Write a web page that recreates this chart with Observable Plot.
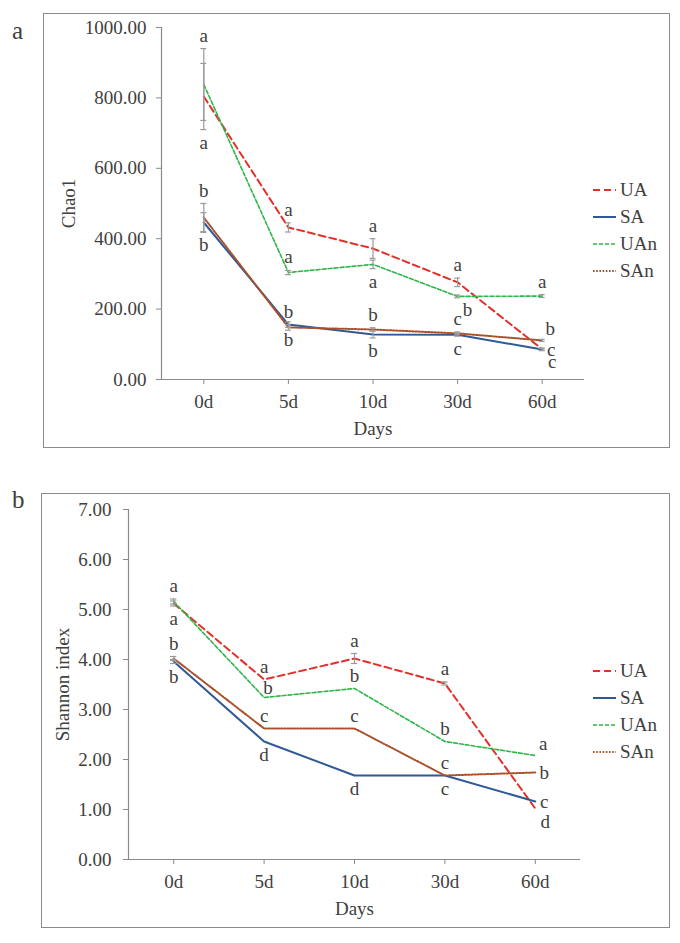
<!DOCTYPE html>
<html><head><meta charset="utf-8">
<script src="https://cdn.jsdelivr.net/npm/d3@7"></script>
<script src="https://cdn.jsdelivr.net/npm/@observablehq/plot@0.6"></script>
<style>
body{margin:0;background:#fff;font-family:"Liberation Serif","Times New Roman",serif;color:#404040}
#root{position:relative;width:680px;height:943px;overflow:hidden}
.panel{position:absolute;border:1px solid #8c8c8c;box-sizing:border-box}
.panel svg{display:block}
.plabel{position:absolute;font-size:25px;line-height:1}
.legend{position:absolute;font-size:19px}
.legend .row{display:flex;align-items:center;height:27px}
.legend svg{display:block;margin-right:3px}
</style></head><body><div id="root"></div>
<script>
// ---------- data ----------
const days = ["0d", "5d", "10d", "30d", "60d"];
const seriesNames = ["UA", "SA", "UAn", "SAn"];

// Panel a: Chao1
const chaoUA  = [804, 432, 372, 276, 86];
const chaoSA  = [446, 156, 128, 127, 85];
const chaoUAn = [838, 304, 327, 236, 237];
const chaoSAn = [460, 148, 142, 131, 111];
const chaoErrUA  = [94, 13, 28, 12, 3];
const chaoErrSA  = [28, 8, 10, 4, 3];
const chaoErrUAn = [102, 6, 12, 4, 4];
const chaoErrSAn = [40, 8, 5, 4, 3];
const chaoTicks = [0, 200, 400, 600, 800, 1000];
const chaoLetUA  = ["a", "a", "a", "a", "c"];
const chaoLetSA  = ["b", "b", "b", "c", "c"];
const chaoLetUAn = ["a", "a", "a", "b", "a"];
const chaoLetSAn = ["b", "b", "b", "c", "b"];
const chaoSideUA  = ["below", "above", "above", "above", "downRight"];
const chaoSideSA  = ["below", "below", "below", "below", "right"];
const chaoSideUAn = ["above", "above", "below", "downRight", "above"];
const chaoSideSAn = ["above", "above", "above", "above", "upRight"];

// Panel b: Shannon index
const shanUA  = [5.12, 3.60, 4.02, 3.52, 1.02];
const shanSA  = [3.96, 2.36, 1.68, 1.68, 1.16];
const shanUAn = [5.16, 3.24, 3.42, 2.36, 2.08];
const shanSAn = [4.02, 2.62, 2.62, 1.68, 1.74];
const shanErrUA  = [0.05, 0, 0.1, 0.03, 0];
const shanErrSA  = [0.04, 0, 0, 0, 0];
const shanErrUAn = [0.05, 0, 0, 0, 0];
const shanErrSAn = [0.04, 0, 0, 0, 0];
const shanTicks = [0, 1, 2, 3, 4, 5, 6, 7];
const shanLetUA  = ["a", "a", "a", "a", "d"];
const shanLetSA  = ["b", "d", "d", "c", "c"];
const shanLetUAn = ["a", "b", "b", "b", "a"];
const shanLetSAn = ["b", "c", "c", "c", "b"];
const shanSideUA  = ["below", "above", "above", "above", "downRight"];
const shanSideSA  = ["below", "below", "below", "below", "right"];
const shanSideUAn = ["above", "nearAbove", "above", "above", "upRight"];
const shanSideSAn = ["above", "above", "above", "above", "right"];

// ---------- styles ----------
const styles = {
  UA:  {stroke: "#e3302b", strokeWidth: 2,   strokeDasharray: "7,4"},
  SA:  {stroke: "#2f5a96", strokeWidth: 2,   strokeDasharray: null},
  UAn: {stroke: "#2fb54a", strokeWidth: 1.6, strokeDasharray: "4,2"},
  SAn: {stroke: "#a9502a", strokeWidth: 2,   strokeDasharray: "1.6,1.6"}
};
const FS = 19;
const textColor = "#404040";
const axisColor = "#8a8a8a";
const errColor = "#9a9a9a";
const sideOffsets = {
  above: {dx: 0, dy: -13}, below: {dx: 0, dy: 13}, nearAbove: {dx: 4, dy: -10},
  right: {dx: 9, dy: 0}, upRight: {dx: 8, dy: -12}, downRight: {dx: 10, dy: 13}
};

function build(vals, errs, lets, sides) {
  const rows = [];
  seriesNames.forEach((s, k) => {
    vals[k].forEach((v, i) => {
      rows.push({series: s, i, v, err: errs[k][i], letter: lets[k][i], side: sides[k][i]});
    });
  });
  return rows;
}

function panel(opts) {
  const {rows, ticks, ymax, yLabel, width, height, mL, mR, mT, mB, tickPad, yTitleDx, fmt} = opts;
  const marks = [];
  marks.push(Plot.ruleY([0], {x1: -0.55, x2: 4.5, stroke: axisColor, strokeWidth: 1.2}));
  marks.push(Plot.ruleX([-0.5], {y1: 0, y2: ymax, stroke: axisColor, strokeWidth: 1.2}));
  marks.push(Plot.axisY({ticks, tickFormat: fmt, tickSize: 5, tickPadding: tickPad, stroke: axisColor, fill: textColor, fontSize: FS, label: null}));
  marks.push(Plot.axisX({ticks: [0, 1, 2, 3, 4], tickFormat: i => days[i], tickSize: 5, tickPadding: 10, stroke: axisColor, fill: textColor, fontSize: FS, label: null}));
  for (const s of seriesNames) {
    const st = styles[s];
    marks.push(Plot.line(rows.filter(d => d.series === s), {x: "i", y: "v", stroke: st.stroke, strokeWidth: st.strokeWidth, strokeDasharray: st.strokeDasharray || undefined}));
  }
  const eb = rows.filter(d => d.err > 0);
  const c = 0.035;
  marks.push(Plot.ruleX(eb, {x: "i", y1: d => d.v - d.err, y2: d => d.v + d.err, stroke: errColor, strokeWidth: 1.2}));
  marks.push(Plot.ruleY(eb, {y: d => d.v + d.err, x1: d => d.i - c, x2: d => d.i + c, stroke: errColor, strokeWidth: 1.2}));
  marks.push(Plot.ruleY(eb, {y: d => d.v - d.err, x1: d => d.i - c, x2: d => d.i + c, stroke: errColor, strokeWidth: 1.2}));
  for (const side of Object.keys(sideOffsets)) {
    const o = sideOffsets[side];
    const sub = rows.filter(d => d.side === side);
    if (!sub.length) continue;
    const yf = side === "above" ? (d => d.v + d.err) : side === "below" ? (d => d.v - d.err) : (d => d.v);
    marks.push(Plot.text(sub, {x: "i", y: yf, text: "letter", dx: o.dx, dy: o.dy, fill: textColor, fontSize: FS, textAnchor: "middle", lineAnchor: "middle"}));
  }
  marks.push(Plot.text([yLabel], {text: d => d, frameAnchor: "left", rotate: -90, dx: yTitleDx, textAnchor: "middle", lineAnchor: "middle", fill: textColor, fontSize: FS}));
  marks.push(Plot.text(["Days"], {text: d => d, frameAnchor: "bottom", dy: 49, textAnchor: "middle", lineAnchor: "middle", fill: textColor, fontSize: FS}));

  return Plot.plot({
    width, height,
    marginLeft: mL, marginRight: mR, marginTop: mT, marginBottom: mB,
    x: {type: "linear", domain: [-0.5, 4.5]},
    y: {domain: [0, ymax]},
    style: {fontFamily: "'Liberation Serif','Times New Roman',serif", fontSize: FS + "px", color: textColor, background: "transparent", overflow: "visible"},
    marks
  });
}

function legend(top, left) {
  const L = document.createElement("div");
  L.className = "legend";
  L.style.top = top + "px";
  L.style.left = left + "px";
  for (const s of seriesNames) {
    const st = styles[s];
    const row = document.createElement("div");
    row.className = "row";
    row.innerHTML = `<svg width="24" height="6"><line x1="0" y1="3" x2="23" y2="3" stroke="${st.stroke}" stroke-width="${st.strokeWidth}" ${st.strokeDasharray ? `stroke-dasharray="${st.strokeDasharray}"` : ""}/></svg><span>${s}</span>`;
    L.appendChild(row);
  }
  return L;
}

const root = document.getElementById("root");

const pa = document.createElement("div");
pa.className = "panel";
Object.assign(pa.style, {left: "43px", top: "13px", width: "627px", height: "435px"});
pa.appendChild(panel({
  rows: build([chaoUA, chaoSA, chaoUAn, chaoSAn], [chaoErrUA, chaoErrSA, chaoErrUAn, chaoErrSAn],
              [chaoLetUA, chaoLetSA, chaoLetUAn, chaoLetSAn], [chaoSideUA, chaoSideSA, chaoSideUAn, chaoSideSAn]),
  ticks: chaoTicks, ymax: 1000, yLabel: "Chao1", fmt: d => d.toFixed(2),
  width: 625, height: 433, mL: 117, mR: 85, mT: 13, mB: 68, tickPad: 10, yTitleDx: -93
}));
root.appendChild(pa);
const la = document.createElement("div");
la.className = "plabel"; la.textContent = "a";
Object.assign(la.style, {left: "12px", top: "18px"});
root.appendChild(la);
root.appendChild(legend(176, 593));

const pb = document.createElement("div");
pb.className = "panel";
Object.assign(pb.style, {left: "41px", top: "493px", width: "629px", height: "435px"});
pb.appendChild(panel({
  rows: build([shanUA, shanSA, shanUAn, shanSAn], [shanErrUA, shanErrSA, shanErrUAn, shanErrSAn],
              [shanLetUA, shanLetSA, shanLetUAn, shanLetSAn], [shanSideUA, shanSideSA, shanSideUAn, shanSideSAn]),
  ticks: shanTicks, ymax: 7, yLabel: "Shannon index", fmt: d => d.toFixed(2),
  width: 627, height: 433, mL: 86, mR: 89, mT: 15, mB: 68, tickPad: 12, yTitleDx: -66
}));
root.appendChild(pb);
const lb = document.createElement("div");
lb.className = "plabel"; lb.textContent = "b";
Object.assign(lb.style, {left: "12px", top: "487px"});
root.appendChild(lb);
root.appendChild(legend(657, 593));
</script>
</body></html>
